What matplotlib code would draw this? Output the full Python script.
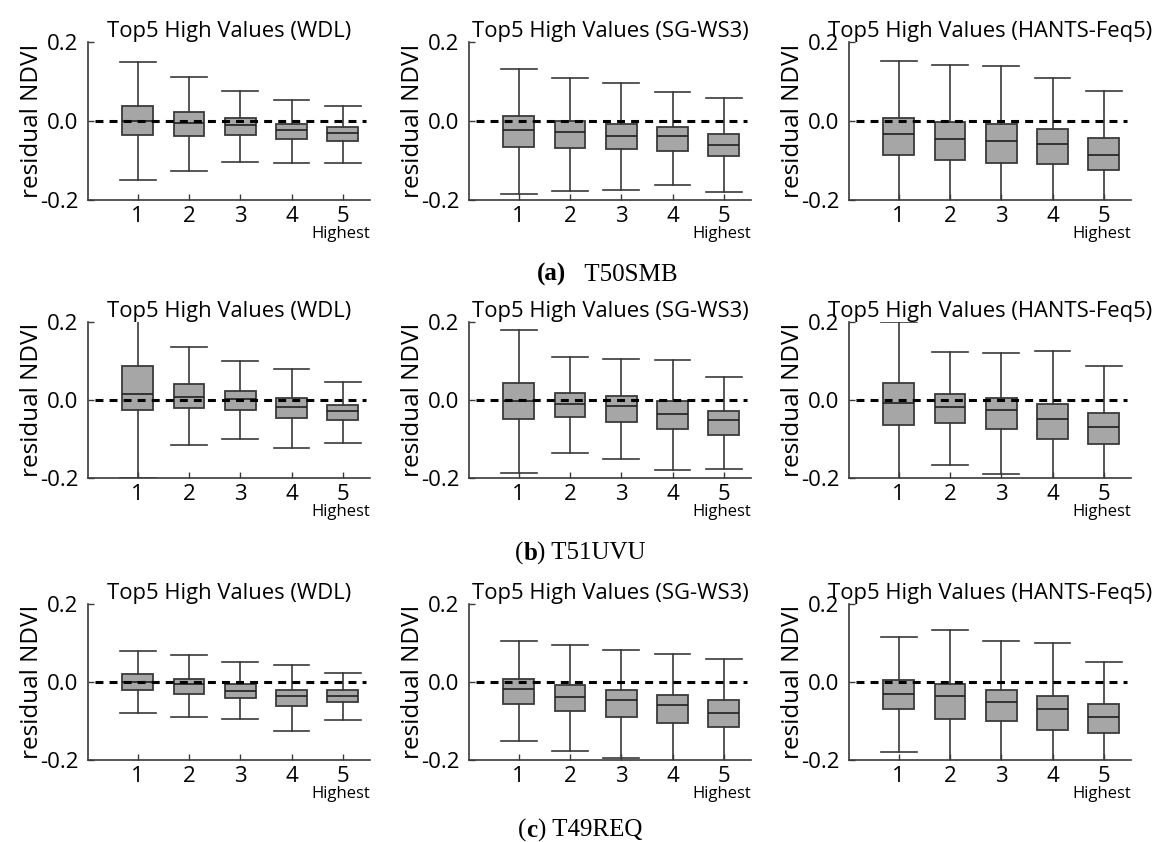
import matplotlib
matplotlib.use("Agg")
import matplotlib.pyplot as plt
import matplotlib.transforms as mtransforms

plt.rcParams["font.family"] = ["Open Sans", "DejaVu Sans"]

# ---------------------------------------------------------------------------
# Data: residual NDVI box statistics for the five highest-value ranks
# (whislo, q1, med, q3, whishi) per tile and reconstruction method
# ---------------------------------------------------------------------------
categories = [1, 2, 3, 4, 5]
tick_labels = ["1", "2", "3", "4", "5"]
methods = ["WDL", "SG-WS3", "HANTS-Feq5"]
tiles = ["T50SMB", "T51UVU", "T49REQ"]
tile_letters = ["a", "b", "c"]

T50SMB_WDL = dict(
    whishi=[0.150, 0.112, 0.075, 0.053, 0.039],
    q3=[0.038, 0.023, 0.008, -0.007, -0.016],
    med=[0.000, -0.004, -0.010, -0.022, -0.031],
    q1=[-0.036, -0.038, -0.036, -0.045, -0.051],
    whislo=[-0.149, -0.127, -0.103, -0.106, -0.106],
)
T50SMB_SG = dict(
    whishi=[0.131, 0.108, 0.097, 0.074, 0.057],
    q3=[0.013, 0.001, -0.007, -0.015, -0.032],
    med=[-0.023, -0.029, -0.038, -0.038, -0.060],
    q1=[-0.065, -0.069, -0.072, -0.075, -0.089],
    whislo=[-0.184, -0.176, -0.174, -0.163, -0.179],
)
T50SMB_HANTS = dict(
    whishi=[0.153, 0.142, 0.138, 0.108, 0.076],
    q3=[0.008, -0.003, -0.008, -0.021, -0.044],
    med=[-0.033, -0.045, -0.051, -0.058, -0.085],
    q1=[-0.087, -0.099, -0.106, -0.109, -0.125],
    whislo=[-0.240, -0.250, -0.250, -0.240, -0.240],
)

T51UVU_WDL = dict(
    whishi=[0.240, 0.136, 0.099, 0.079, 0.047],
    q3=[0.088, 0.041, 0.024, 0.004, -0.014],
    med=[0.015, 0.007, 0.003, -0.017, -0.028],
    q1=[-0.026, -0.021, -0.025, -0.046, -0.052],
    whislo=[-0.199, -0.116, -0.100, -0.124, -0.111],
)
T51UVU_SG = dict(
    whishi=[0.180, 0.110, 0.105, 0.102, 0.059],
    q3=[0.044, 0.019, 0.009, -0.003, -0.029],
    med=[-0.002, -0.009, -0.015, -0.036, -0.050],
    q1=[-0.049, -0.043, -0.056, -0.074, -0.089],
    whislo=[-0.186, -0.135, -0.150, -0.180, -0.178],
)
T51UVU_HANTS = dict(
    whishi=[0.200, 0.124, 0.120, 0.126, 0.087],
    q3=[0.043, 0.015, 0.004, -0.010, -0.033],
    med=[-0.008, -0.018, -0.025, -0.048, -0.068],
    q1=[-0.063, -0.058, -0.074, -0.100, -0.112],
    whislo=[-0.230, -0.166, -0.190, -0.240, -0.230],
)

T49REQ_WDL = dict(
    whishi=[0.080, 0.068, 0.051, 0.044, 0.023],
    q3=[0.021, 0.008, -0.004, -0.020, -0.021],
    med=[0.000, -0.006, -0.022, -0.036, -0.035],
    q1=[-0.020, -0.031, -0.040, -0.061, -0.052],
    whislo=[-0.079, -0.089, -0.095, -0.125, -0.097],
)
T49REQ_SG = dict(
    whishi=[0.104, 0.094, 0.083, 0.071, 0.058],
    q3=[0.008, -0.008, -0.021, -0.033, -0.046],
    med=[-0.019, -0.038, -0.045, -0.058, -0.080],
    q1=[-0.056, -0.075, -0.090, -0.105, -0.115],
    whislo=[-0.152, -0.178, -0.195, -0.230, -0.230],
)
T49REQ_HANTS = dict(
    whishi=[0.115, 0.133, 0.104, 0.100, 0.052],
    q3=[0.005, -0.004, -0.020, -0.035, -0.057],
    med=[-0.031, -0.036, -0.051, -0.069, -0.089],
    q1=[-0.069, -0.095, -0.101, -0.124, -0.130],
    whislo=[-0.180, -0.240, -0.240, -0.240, -0.240],
)

panels = [
    [T50SMB_WDL, T50SMB_SG, T50SMB_HANTS],
    [T51UVU_WDL, T51UVU_SG, T51UVU_HANTS],
    [T49REQ_WDL, T49REQ_SG, T49REQ_HANTS],
]

# ---------------------------------------------------------------------------
# Layout (pixels)
# ---------------------------------------------------------------------------
W, H = 1161, 842
fig = plt.figure(figsize=(W / 100, H / 100), dpi=100)

col_left = [88, 469, 849]
col_right = [370, 751, 1131]
row_top = [42, 322, 604]
row_bottom = [200, 478, 760]

EDGE = "#3a3a3a"
FACE = "#a6a6a6"


def to_stats(d):
    out = []
    for i in range(len(categories)):
        out.append(dict(whislo=d["whislo"][i], q1=d["q1"][i], med=d["med"][i],
                        q3=d["q3"][i], whishi=d["whishi"][i], fliers=[]))
    return out


for r in range(3):
    for c in range(3):
        rect = [col_left[c] / W, 1 - row_bottom[r] / H,
                (col_right[c] - col_left[c]) / W,
                (row_bottom[r] - row_top[r]) / H]
        ax = fig.add_axes(rect)
        ax.bxp(to_stats(panels[r][c]), positions=categories, widths=0.6,
               capwidths=0.7, patch_artist=True, showfliers=False,
               boxprops=dict(facecolor=FACE, edgecolor=EDGE, linewidth=1.3),
               whiskerprops=dict(color=EDGE, linewidth=1.2),
               capprops=dict(color=EDGE, linewidth=1.2),
               medianprops=dict(color="#202020", linewidth=1.2))
        ax.axhline(0, xmin=0.025, xmax=0.985, color="black", linewidth=2.2,
                   linestyle=(0, (2.6, 2.0)), zorder=5)
        ax.set_xlim(0.03, 5.53)
        ax.set_ylim(-0.2, 0.2)
        ax.set_yticks([-0.2, 0.0, 0.2])
        ax.set_yticklabels(["-0.2", "0.0", "0.2"])
        ax.set_xticks(categories)
        ax.set_xticklabels(tick_labels)
        for s in ("top", "right"):
            ax.spines[s].set_visible(False)
        for s in ("left", "bottom"):
            ax.spines[s].set_color(EDGE)
            ax.spines[s].set_linewidth(1.2)
        ax.tick_params(axis="both", direction="in", length=4, width=1.0,
                       color=EDGE, labelsize=16, labelcolor="black")
        ax.tick_params(axis="y", pad=7)
        ax.tick_params(axis="x", pad=4)
        ax.set_title(f"Top5 High Values ({methods[c]})", fontsize=15.8, pad=3)
        ax.set_ylabel("residual NDVI", fontsize=17.5)
        ax.yaxis.set_label_coords(-0.155, 0.5)
        trans = mtransforms.blended_transform_factory(ax.transData, ax.transAxes)
        ax.text(categories[-1] - 0.05, -0.165, "Highest", transform=trans,
                ha="center", va="top", fontsize=12)

# ---------------------------------------------------------------------------
# Panel captions (Times-like serif, letter in bold)
# ---------------------------------------------------------------------------
caption_parts = [
    [("(a)", "bold"), ("   " + tiles[0], "normal")],
    [("(", "normal"), (tile_letters[1], "bold"), (") " + tiles[1], "normal")],
    [("(", "normal"), (tile_letters[2], "bold"), (") " + tiles[2], "normal")],
]
caption_left = [537, 515, 518]
caption_base = [281, 560, 837]

renderer = fig.canvas.get_renderer()
for parts, x0, yb in zip(caption_parts, caption_left, caption_base):
    x = x0 / W
    for s, w in parts:
        t = fig.text(x, 1 - yb / H, s, fontsize=18, fontweight=w,
                     family="Liberation Serif", va="baseline", ha="left")
        bb = t.get_window_extent(renderer)
        x = bb.x1 / W

fig.savefig("out.png", dpi=100)
